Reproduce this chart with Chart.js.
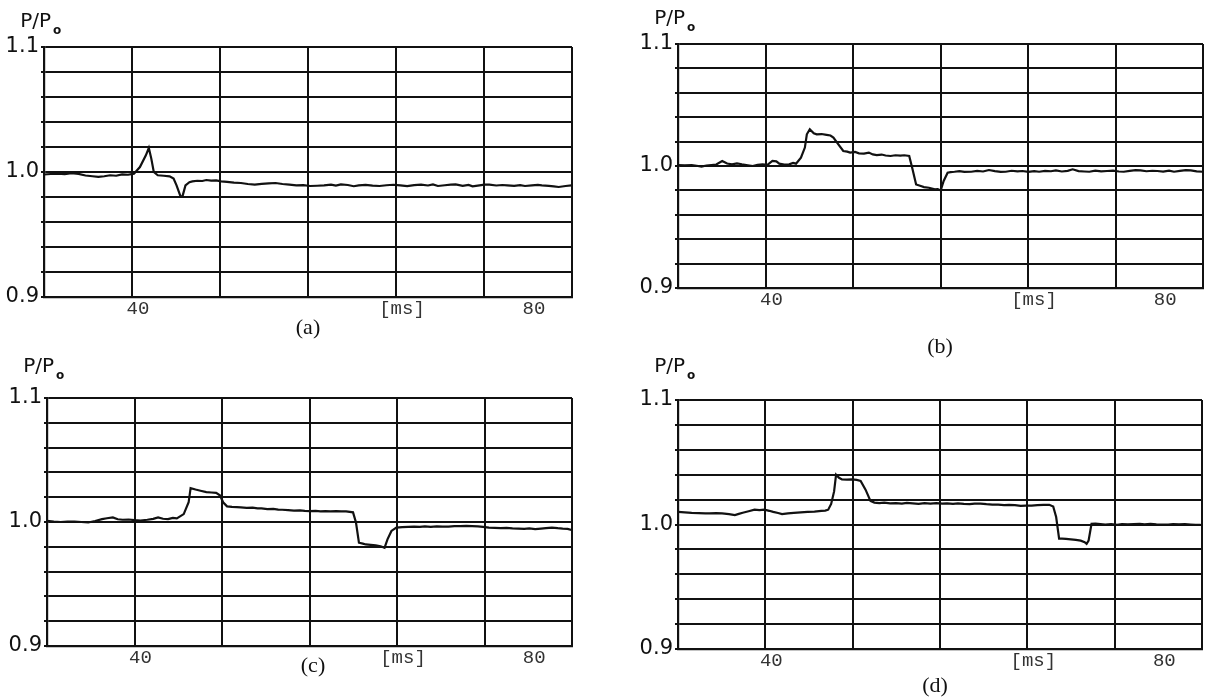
<!DOCTYPE html>
<html>
<head>
<meta charset="utf-8">
<script src="https://cdn.jsdelivr.net/npm/chart.js@4.4.0/dist/chart.umd.min.js"></script>
<style>
  body { margin: 0; width: 1206px; height: 700px; overflow: hidden; background: #fff; position: relative; }
  canvas.panel { position: absolute; }
  .cap { position: absolute; font-family: 'Liberation Serif', 'Times New Roman', serif; font-size: 22px; color: #111; transform: translate(-50%, -50%); }
</style>
</head>
<body>
<canvas id="chart-a" class="panel"></canvas>
<canvas id="chart-b" class="panel"></canvas>
<canvas id="chart-c" class="panel"></canvas>
<canvas id="chart-d" class="panel"></canvas>
<div class="cap" style="left:308px; top:327px">(a)</div>
<div class="cap" style="left:940px; top:346px">(b)</div>
<div class="cap" style="left:313px; top:665px">(c)</div>
<div class="cap" style="left:935px; top:685px">(d)</div>
<script>
// time axis [ms] and pressure ratio P/Po
const timeA = [31.1, 31.8, 32.5, 33.2, 33.9, 34.6, 35.3, 36.0, 36.6, 37.2, 37.8, 38.4, 39.0, 39.6, 40.2, 40.8, 41.4, 41.7, 41.95, 42.2,
    42.6, 43.2, 43.8, 44.2, 44.5, 44.9, 45.1, 45.4, 45.8, 46.1, 46.6, 47.1, 47.5, 48.0, 48.5, 49.0, 49.6, 50.3, 51.0, 51.7,
    52.4, 53.1, 53.8, 54.5, 55.2, 55.9, 56.6, 57.3, 58.0, 58.7, 59.4, 60.1, 60.6, 61.1, 61.8, 62.4, 62.9, 63.6, 64.3, 65.0,
    65.7, 66.4, 67.1, 67.8, 68.5, 69.2, 69.9, 70.4, 70.9, 71.6, 72.2, 72.7, 73.4, 74.0, 74.4, 75.1, 75.6, 76.1, 76.8, 77.4,
    77.9, 78.6, 79.2, 79.7, 80.4, 81.0, 81.4, 82.1, 82.6, 83.1, 83.8, 84.4];
const ratioA = [0.9980, 0.9984, 0.9986, 0.9983, 0.9990, 0.9985, 0.9972, 0.9966, 0.9961, 0.9966, 0.9974, 0.9970, 0.9981, 0.9978, 0.9987, 1.0040, 1.0133, 1.0192, 1.0107, 1.0000,
    0.9974, 0.9970, 0.9965, 0.9947, 0.9893, 0.9805, 0.9805, 0.9893, 0.9918, 0.9925, 0.9930, 0.9928, 0.9936, 0.9931, 0.9933, 0.9925, 0.9921, 0.9915, 0.9912, 0.9904,
    0.9899, 0.9905, 0.9909, 0.9912, 0.9904, 0.9899, 0.9893, 0.9895, 0.9888, 0.9890, 0.9893, 0.9899, 0.9891, 0.9901, 0.9896, 0.9886, 0.9893, 0.9897, 0.9891, 0.9888,
    0.9894, 0.9898, 0.9893, 0.9887, 0.9895, 0.9899, 0.9892, 0.9901, 0.9888, 0.9894, 0.9899, 0.9901, 0.9889, 0.9896, 0.9885, 0.9893, 0.9899, 0.9899, 0.9892, 0.9896,
    0.9893, 0.9889, 0.9895, 0.9888, 0.9893, 0.9897, 0.9893, 0.9889, 0.9885, 0.9880, 0.9888, 0.9893];

const timeB = [31.1, 31.8, 32.5, 33.0, 33.5, 34.0, 34.5, 35.0, 35.6, 36.1, 36.6, 37.1, 37.6, 38.2, 38.7, 39.2, 39.7, 40.2, 40.7, 41.1,
    41.4, 41.9, 42.4, 42.8, 43.1, 43.6, 44.0, 44.2, 44.5, 44.9, 45.2, 45.7, 46.2, 46.6, 46.9, 47.4, 47.9, 48.3, 48.6, 49.1,
    49.5, 50.0, 50.5, 50.9, 51.3, 51.8, 52.2, 52.7, 53.2, 53.7, 54.1, 54.6, 54.9, 55.3, 55.7, 56.1, 56.6, 57.2, 57.5, 57.8,
    58.1, 58.5, 58.8, 59.2, 59.7, 60.2, 60.9, 61.5, 62.1, 62.7, 63.3, 63.9, 64.4, 65.0, 65.6, 66.1, 66.7, 67.3, 67.8, 68.4,
    69.0, 69.5, 70.1, 70.7, 71.2, 71.8, 72.4, 72.9, 73.5, 74.1, 74.7, 75.3, 75.9, 76.4, 77.0, 77.6, 78.1, 78.7, 79.3, 79.8,
    80.4, 81.0, 81.5, 82.1, 82.7, 83.2, 83.8, 84.4];
const ratioB = [1.0008, 1.0006, 1.0008, 1.0002, 0.9995, 1.0004, 1.0008, 1.0012, 1.0041, 1.0020, 1.0014, 1.0022, 1.0014, 1.0006, 1.0000, 1.0009, 1.0014, 1.0010, 1.0041, 1.0038,
    1.0019, 1.0012, 1.0014, 1.0025, 1.0019, 1.0068, 1.0151, 1.0260, 1.0301, 1.0268, 1.0260, 1.0262, 1.0255, 1.0250, 1.0233, 1.0178, 1.0123, 1.0118, 1.0110, 1.0115,
    1.0104, 1.0101, 1.0110, 1.0095, 1.0090, 1.0094, 1.0086, 1.0082, 1.0088, 1.0085, 1.0088, 1.0082, 0.9986, 0.9849, 0.9838, 0.9827, 0.9822, 0.9808, 0.9810, 0.9800,
    0.9877, 0.9945, 0.9950, 0.9953, 0.9958, 0.9952, 0.9953, 0.9960, 0.9955, 0.9967, 0.9958, 0.9952, 0.9953, 0.9961, 0.9956, 0.9959, 0.9952, 0.9958, 0.9953, 0.9960,
    0.9957, 0.9964, 0.9955, 0.9960, 0.9973, 0.9958, 0.9955, 0.9953, 0.9962, 0.9956, 0.9959, 0.9962, 0.9955, 0.9953, 0.9960, 0.9966, 0.9964, 0.9957, 0.9961, 0.9959,
    0.9954, 0.9962, 0.9953, 0.9960, 0.9966, 0.9964, 0.9956, 0.9953];

const timeC = [31.1, 31.8, 32.5, 33.2, 33.9, 34.6, 35.3, 36.0, 36.7, 37.2, 37.8, 38.3, 38.8, 39.4, 40.0, 40.6, 41.3, 41.9, 42.4, 42.9,
    43.4, 43.9, 44.3, 45.0, 45.5, 45.7, 46.2, 46.7, 47.3, 47.8, 48.3, 48.7, 49.0, 49.4, 49.9, 50.4, 50.8, 51.4, 52.0, 52.5,
    52.9, 53.5, 54.1, 54.6, 55.0, 55.6, 56.2, 56.8, 57.3, 57.8, 58.4, 58.9, 59.4, 59.9, 60.5, 61.0, 61.5, 62.2, 62.5, 62.8,
    63.2, 63.5, 64.0, 64.5, 65.0, 65.4, 65.7, 66.1, 66.6, 67.2, 67.8, 68.4, 69.0, 69.5, 70.1, 70.7, 71.3, 71.9, 72.5, 73.1,
    73.7, 74.3, 74.9, 75.4, 76.0, 76.6, 77.2, 77.8, 78.4, 79.0, 79.6, 80.1, 80.7, 81.3, 81.8, 82.4, 83.0, 83.5, 84.0, 84.4];
const ratioC = [1.0010, 1.0004, 1.0000, 1.0003, 1.0004, 1.0000, 0.9996, 1.0008, 1.0023, 1.0030, 1.0037, 1.0022, 1.0018, 1.0020, 1.0015, 1.0012, 1.0018, 1.0025, 1.0037, 1.0026,
    1.0023, 1.0033, 1.0029, 1.0064, 1.0159, 1.0273, 1.0262, 1.0252, 1.0241, 1.0238, 1.0235, 1.0214, 1.0159, 1.0126, 1.0122, 1.0120, 1.0118, 1.0114, 1.0116, 1.0110,
    1.0110, 1.0104, 1.0106, 1.0100, 1.0099, 1.0096, 1.0092, 1.0093, 1.0089, 1.0088, 1.0090, 1.0086, 1.0088, 1.0086, 1.0087, 1.0085, 1.0086, 1.0078, 0.9996, 0.9833,
    0.9826, 0.9819, 0.9816, 0.9811, 0.9804, 0.9792, 0.9860, 0.9928, 0.9955, 0.9958, 0.9961, 0.9963, 0.9960, 0.9964, 0.9961, 0.9965, 0.9962, 0.9963, 0.9966, 0.9967,
    0.9969, 0.9966, 0.9964, 0.9961, 0.9955, 0.9952, 0.9950, 0.9953, 0.9949, 0.9947, 0.9945, 0.9948, 0.9942, 0.9946, 0.9950, 0.9955, 0.9950, 0.9947, 0.9945, 0.9936];

const timeD = [31.1, 31.8, 32.5, 33.2, 33.9, 34.3, 35.0, 35.6, 36.3, 36.9, 37.3, 37.7, 38.3, 38.9, 39.4, 39.9, 40.4, 40.8, 41.3, 41.7,
    42.3, 42.9, 43.6, 44.3, 45.0, 45.7, 46.1, 46.4, 46.7, 47.0, 47.2, 47.5, 47.8, 48.3, 48.8, 49.3, 49.7, 50.2, 50.7, 51.1,
    51.6, 52.1, 52.7, 53.3, 53.9, 54.4, 55.0, 55.6, 56.2, 56.8, 57.4, 58.0, 58.5, 59.1, 59.6, 60.2, 60.8, 61.3, 61.9, 62.5,
    63.1, 63.7, 64.3, 64.8, 65.4, 66.0, 66.5, 67.1, 67.7, 68.3, 68.9, 69.3, 69.6, 69.9, 70.2, 70.6, 71.1, 71.6, 72.1, 72.5,
    72.7, 72.9, 73.2, 73.6, 74.1, 74.6, 75.2, 75.8, 76.3, 76.9, 77.5, 78.1, 78.6, 79.2, 79.8, 80.4, 81.0, 81.5, 82.1, 82.7,
    83.3, 83.8, 84.3];
const ratioD = [1.0101, 1.0098, 1.0094, 1.0092, 1.0090, 1.0089, 1.0091, 1.0089, 1.0083, 1.0076, 1.0085, 1.0094, 1.0106, 1.0119, 1.0115, 1.0119, 1.0110, 1.0101, 1.0092, 1.0084,
    1.0090, 1.0094, 1.0098, 1.0101, 1.0104, 1.0109, 1.0112, 1.0119, 1.0165, 1.0266, 1.0400, 1.0375, 1.0362, 1.0360, 1.0362, 1.0358, 1.0350, 1.0280, 1.0190, 1.0176,
    1.0172, 1.0175, 1.0170, 1.0172, 1.0168, 1.0173, 1.0170, 1.0166, 1.0171, 1.0168, 1.0172, 1.0167, 1.0170, 1.0166, 1.0169, 1.0165, 1.0163, 1.0168, 1.0168, 1.0163,
    1.0160, 1.0160, 1.0155, 1.0158, 1.0155, 1.0150, 1.0152, 1.0152, 1.0156, 1.0157, 1.0158, 1.0145, 1.0060, 0.9886, 0.9887, 0.9884, 0.9880, 0.9876, 0.9870, 0.9858,
    0.9845, 0.9870, 1.0005, 1.0008, 1.0004, 1.0000, 1.0003, 0.9998, 1.0004, 1.0001, 1.0003, 1.0006, 1.0002, 1.0006, 1.0001, 0.9999, 1.0000, 1.0004, 1.0001, 1.0003,
    1.0000, 0.9998, 0.9998];

// axis ticks
const ratioGrid = [0.90, 0.92, 0.94, 0.96, 0.98, 1.00, 1.02, 1.04, 1.06, 1.08, 1.10];
const ratioLabels = ['0.9', '', '', '', '', '1.0', '', '', '', '', '1.1'];
const timeLabelValues = [40, 66.667, 80];
const timeLabelTexts = ['40', '[ms]', '80'];

// grid: 6 divisions, "40" on the first line, "80" four and a half divisions further
const msPerDiv = 40 / 4.5;
const timeMin = 40 - msPerDiv;
const timeMax = timeMin + 6 * msPerDiv;
const timeGrid = [0, 1, 2, 3, 4, 5, 6].map(i => timeMin + i * msPerDiv);

// frame of each plot on the page (left, top, right, bottom) and P/Po title lift
const frames = {
    a: [44, 47, 572, 297],
    b: [678, 44, 1203, 288],
    c: [47, 398, 572, 646],
    d: [678, 400, 1202, 649]
};
const titleLift = { a: 20, b: 20, c: 26, d: 28 };

const INK = '#111';
const Y_AXIS_W = 58, X_AXIS_H = 30, TOP_PAD = 50, RIGHT_PAD = 6;

const ratioTitle = {
    id: 'ratioTitle',
    afterDraw(chart, args, opts) {
        const { ctx, chartArea } = chart;
        const lift = opts.lift || 20;
        ctx.save();
        ctx.fillStyle = INK;
        ctx.font = '20px "DejaVu Sans"';
        ctx.textAlign = 'right';
        ctx.textBaseline = 'alphabetic';
        ctx.fillText('P/P', chartArea.left + 7, chartArea.top - lift);
        ctx.font = 'bold 12px "DejaVu Sans"';
        ctx.textAlign = 'left';
        ctx.fillText('o', chartArea.left + 9, chartArea.top - lift + 7);
        ctx.restore();
    }
};

function near(a, b) { return Math.abs(a - b) < 0.01; }

function makePanel(id, times, ratios, frame, lift) {
    const [L, T, R, B] = frame;
    const canvas = document.getElementById(id);
    const w = (R - L) + Y_AXIS_W + RIGHT_PAD;
    const h = (B - T) + TOP_PAD + X_AXIS_H;
    canvas.width = w;
    canvas.height = h;
    canvas.style.left = (L - Y_AXIS_W) + 'px';
    canvas.style.top = (T - TOP_PAD) + 'px';
    canvas.style.width = w + 'px';
    canvas.style.height = h + 'px';

    new Chart(canvas, {
        type: 'line',
        data: {
            datasets: [{
                data: times.map((t, i) => ({ x: t, y: ratios[i] })),
                borderColor: INK,
                borderWidth: 2.2,
                pointRadius: 0,
                tension: 0
            }]
        },
        options: {
            responsive: false,
            animation: false,
            layout: { padding: { top: TOP_PAD, right: RIGHT_PAD, left: 0, bottom: 0 } },
            scales: {
                x: {
                    type: 'linear',
                    min: timeMin,
                    max: timeMax,
                    afterBuildTicks(scale) {
                        scale.ticks = timeGrid.concat([80]).sort((p, q) => p - q).map(v => ({ value: v }));
                    },
                    afterFit(scale) { scale.height = X_AXIS_H; },
                    ticks: {
                        autoSkip: false,
                        maxRotation: 0,
                        padding: 1,
                        labelOffset: 6,
                        color: '#333',
                        font: { family: 'Liberation Mono', size: 19 },
                        callback(value) {
                            const k = timeLabelValues.findIndex(v => near(v, value));
                            return k < 0 ? '' : timeLabelTexts[k];
                        }
                    },
                    grid: {
                        color: c => (c.tick && near(c.tick.value, 80)) ? 'rgba(0,0,0,0)' : INK,
                        lineWidth: 2,
                        drawTicks: false
                    },
                    border: { color: INK, width: 2.2 }
                },
                y: {
                    min: 0.9,
                    max: 1.1,
                    afterBuildTicks(scale) {
                        scale.ticks = ratioGrid.map(v => ({ value: v }));
                    },
                    afterFit(scale) { scale.width = Y_AXIS_W; },
                    ticks: {
                        autoSkip: false,
                        padding: 2,
                        color: INK,
                        font: { family: 'DejaVu Sans', size: 21 },
                        callback(value) {
                            const k = ratioGrid.findIndex(v => Math.abs(v - value) < 1e-6);
                            return k < 0 ? '' : ratioLabels[k];
                        }
                    },
                    grid: { color: INK, lineWidth: 2, tickLength: 3 },
                    border: { color: INK, width: 2.2 }
                }
            },
            plugins: {
                legend: { display: false },
                tooltip: { enabled: false },
                ratioTitle: { lift: lift }
            }
        },
        plugins: [ratioTitle]
    });
}

makePanel('chart-a', timeA, ratioA, frames.a, titleLift.a);
makePanel('chart-b', timeB, ratioB, frames.b, titleLift.b);
makePanel('chart-c', timeC, ratioC, frames.c, titleLift.c);
makePanel('chart-d', timeD, ratioD, frames.d, titleLift.d);
</script>
</body>
</html>
